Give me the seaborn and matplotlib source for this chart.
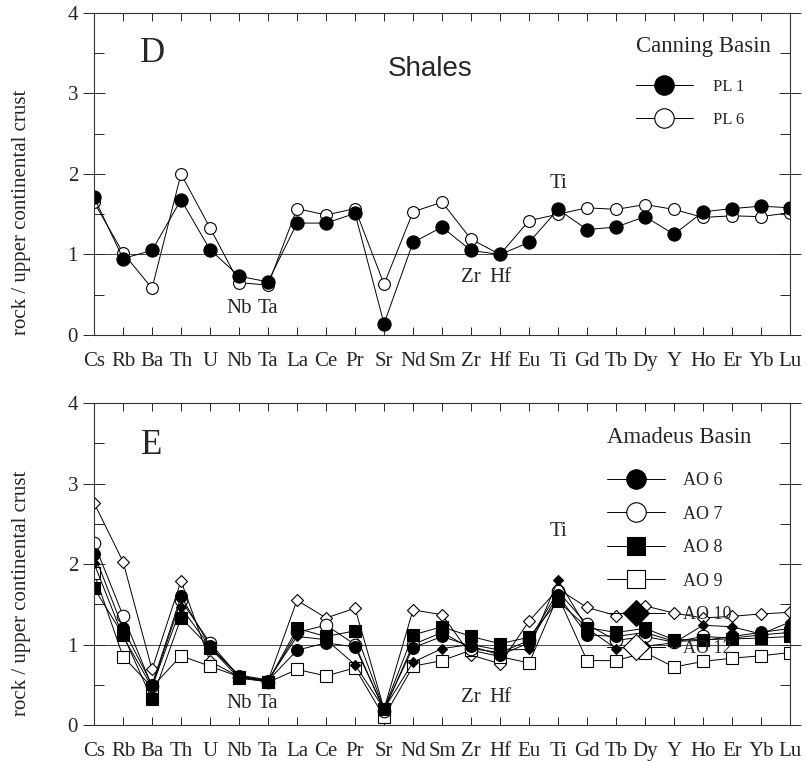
import numpy as np
import pandas as pd
import matplotlib
matplotlib.use("Agg")
import matplotlib.pyplot as plt
from matplotlib.lines import Line2D
from matplotlib.ticker import MultipleLocator
import seaborn as sns

# elements on the x axis (spider diagram order)
elements = ['Cs', 'Rb', 'Ba', 'Th', 'U', 'Nb', 'Ta', 'La', 'Ce', 'Pr', 'Sr', 'Nd', 'Sm',
            'Zr', 'Hf', 'Eu', 'Ti', 'Gd', 'Tb', 'Dy', 'Y', 'Ho', 'Er', 'Yb', 'Lu']

# panel D - Canning Basin shales (rock / upper continental crust)
pl1 = [1.71, 0.95, 1.05, 1.68, 1.06, 0.73, 0.66, 1.39, 1.39, 1.51, 0.14, 1.15, 1.34,
       1.05, 1.00, 1.15, 1.56, 1.31, 1.34, 1.47, 1.25, 1.53, 1.57, 1.60, 1.58]
pl6 = [1.65, 1.02, 0.58, 2.00, 1.33, 0.65, 0.62, 1.57, 1.49, 1.57, 0.63, 1.53, 1.65,
       1.19, 1.00, 1.42, 1.50, 1.58, 1.56, 1.62, 1.56, 1.46, 1.48, 1.47, 1.52]

# panel E - Amadeus Basin
ao6 = [2.13, 1.20, 0.50, 1.60, 0.98, 0.61, 0.55, 0.93, 1.02, 0.97, 0.20, 0.96, 1.10,
       0.98, 0.87, 1.02, 1.61, 1.12, 1.10, 1.15, 1.04, 1.05, 1.10, 1.15, 1.20]
ao7 = [2.26, 1.36, 0.48, 1.55, 1.02, 0.60, 0.54, 1.15, 1.24, 1.00, 0.18, 1.00, 1.15,
       0.95, 0.90, 1.05, 1.66, 1.25, 1.05, 1.10, 1.03, 1.10, 1.08, 1.12, 1.15]
ao8 = [1.70, 1.12, 0.32, 1.33, 0.96, 0.58, 0.54, 1.20, 1.10, 1.17, 0.20, 1.12, 1.22,
       1.10, 1.01, 1.09, 1.54, 1.21, 1.15, 1.20, 1.06, 1.06, 1.07, 1.08, 1.10]
ao9 = [1.89, 0.85, 0.47, 0.86, 0.73, 0.60, 0.53, 0.69, 0.61, 0.71, 0.10, 0.73, 0.80,
       0.93, 0.85, 0.77, 1.60, 0.80, 0.80, 0.90, 0.72, 0.79, 0.83, 0.86, 0.90]
ao10 = [2.01, 1.10, 0.47, 1.46, 0.97, 0.62, 0.56, 1.10, 1.06, 0.75, 0.20, 0.78, 0.95,
        1.00, 0.93, 0.94, 1.80, 1.20, 0.95, 0.98, 1.02, 1.24, 1.22, 1.13, 1.28]
ao12 = [2.76, 2.03, 0.69, 1.79, 0.79, 0.60, 0.55, 1.55, 1.33, 1.45, 0.20, 1.43, 1.37,
        0.87, 0.76, 1.29, 1.69, 1.46, 1.36, 1.48, 1.39, 1.33, 1.35, 1.38, 1.40]

top = pd.DataFrame({'element': elements * 2, 'ratio': pl6 + pl1,
                    'sample': ['PL 6'] * 25 + ['PL 1'] * 25})
bot_names = ['AO 12', 'AO 9', 'AO 7', 'AO 6', 'AO 10', 'AO 8']
bot_vals = [ao12, ao9, ao7, ao6, ao10, ao8]
bot = pd.DataFrame({'element': elements * 6, 'ratio': sum(bot_vals, []),
                    'sample': sum([[n] * 25 for n in bot_names], [])})

sns.set_style('ticks')
plt.rcParams['font.family'] = ['Liberation Serif', 'DejaVu Serif']

styles = {
    'PL 1': dict(marker='o', markerfacecolor='black', markersize=9.5),
    'PL 6': dict(marker='o', markerfacecolor='white', markersize=8.5),
    'AO 6': dict(marker='o', markerfacecolor='black', markersize=8.5),
    'AO 7': dict(marker='o', markerfacecolor='white', markersize=9),
    'AO 8': dict(marker='s', markerfacecolor='black', markersize=8.5),
    'AO 9': dict(marker='s', markerfacecolor='white', markersize=8.5),
    'AO 10': dict(marker='D', markerfacecolor='black', markersize=5.5),
    'AO 12': dict(marker='D', markerfacecolor='white', markersize=6),
}

fig = plt.figure(figsize=(8.07, 7.61), dpi=100)
ax1 = fig.add_axes([0.1165, 0.5598, 0.8625, 0.4232])
ax2 = fig.add_axes([0.1165, 0.0473, 0.8625, 0.4231])


def draw(ax, df, label_y):
    for s in df['sample'].unique():
        sub = df[df['sample'] == s]
        sns.lineplot(data=sub, x='element', y='ratio', ax=ax, sort=False, errorbar=None,
                     color='black', linewidth=0.7, markeredgecolor='black',
                     markeredgewidth=0.8, **styles[s])
    ax.axhline(1, color='#444444', linewidth=0.7, zorder=0)
    ax.set_xlim(0, 24)
    ax.set_ylim(0, 4)
    ax.set_xlabel('')
    ax.set_ylabel('rock / upper continental crust', fontsize=15)
    ax.yaxis.set_label_coords(-0.09, label_y)
    ax.yaxis.set_major_locator(MultipleLocator(1))
    ax.yaxis.set_minor_locator(MultipleLocator(0.5))
    for sp in ax.spines.values():
        sp.set_visible(True)
        sp.set_linewidth(0.8)
        sp.set_color('#333333')
    ax.tick_params(axis='x', direction='in', top=True, bottom=True, length=6,
                   width=0.7, labelsize=15, pad=12)
    ax.tick_params(axis='y', which='major', direction='inout', left=True, right=True,
                   length=16, width=0.7, labelsize=15)
    ax.tick_params(axis='y', which='minor', direction='in', left=True, right=True,
                   length=7, width=0.7)
    ax.legend_ = None


draw(ax1, top, 0.38)
draw(ax2, bot, 0.41)

# panel annotations
ax1.text(2.0, 3.5, 'D', fontsize=25, ha='center', va='center')
ax1.text(11.6, 3.3, 'Shales', fontsize=20, ha='center', va='center',
         family='Liberation Sans')
for lab, x, y in [('Nb', 5, 0.33), ('Ta', 6, 0.33), ('Zr', 13, 0.72), ('Hf', 14, 0.72),
                  ('Ti', 16, 1.88)]:
    ax1.text(x, y, lab, fontsize=15, ha='center', va='center')

ax2.text(2.0, 3.47, 'E', fontsize=25, ha='center', va='center')
for lab, x, y in [('Nb', 5, 0.27), ('Ta', 6, 0.27), ('Zr', 13, 0.34), ('Hf', 14, 0.34),
                  ('Ti', 16, 2.4)]:
    ax2.text(x, y, lab, fontsize=15, ha='center', va='center')


def handle(name, big):
    st = {k: v for k, v in styles[name].items() if k != 'markersize'}
    return Line2D([], [], color='black', linewidth=0.7, markeredgecolor='black',
                  markeredgewidth=0.8, markersize=big, **st)


leg1 = ax1.legend(handles=[handle('PL 1', 14), handle('PL 6', 14)], labels=['PL 1', 'PL 6'],
                  title='Canning Basin', frameon=False, loc='upper right',
                  bbox_to_anchor=(0.994, 0.975), fontsize=12, title_fontsize=16.5,
                  handlelength=3.4, handletextpad=1.2, labelspacing=1.05)
leg1._legend_box.align = 'left'
leg1._legend_box.sep = 15.5

leg_names = ['AO 6', 'AO 7', 'AO 8', 'AO 9', 'AO 10', 'AO 12']
leg_sizes = [14, 14, 13, 13, 13, 13]
leg2 = ax2.legend(handles=[handle(n, s) for n, s in zip(leg_names, leg_sizes)],
                  labels=leg_names, title='Amadeus Basin', frameon=False,
                  loc='upper right', bbox_to_anchor=(0.968, 0.975), fontsize=13,
                  title_fontsize=16.5, handlelength=3.2, handletextpad=1.0,
                  labelspacing=0.92)
leg2._legend_box.align = 'left'
leg2._legend_box.sep = 17

fig.savefig('out.png', dpi=100)
